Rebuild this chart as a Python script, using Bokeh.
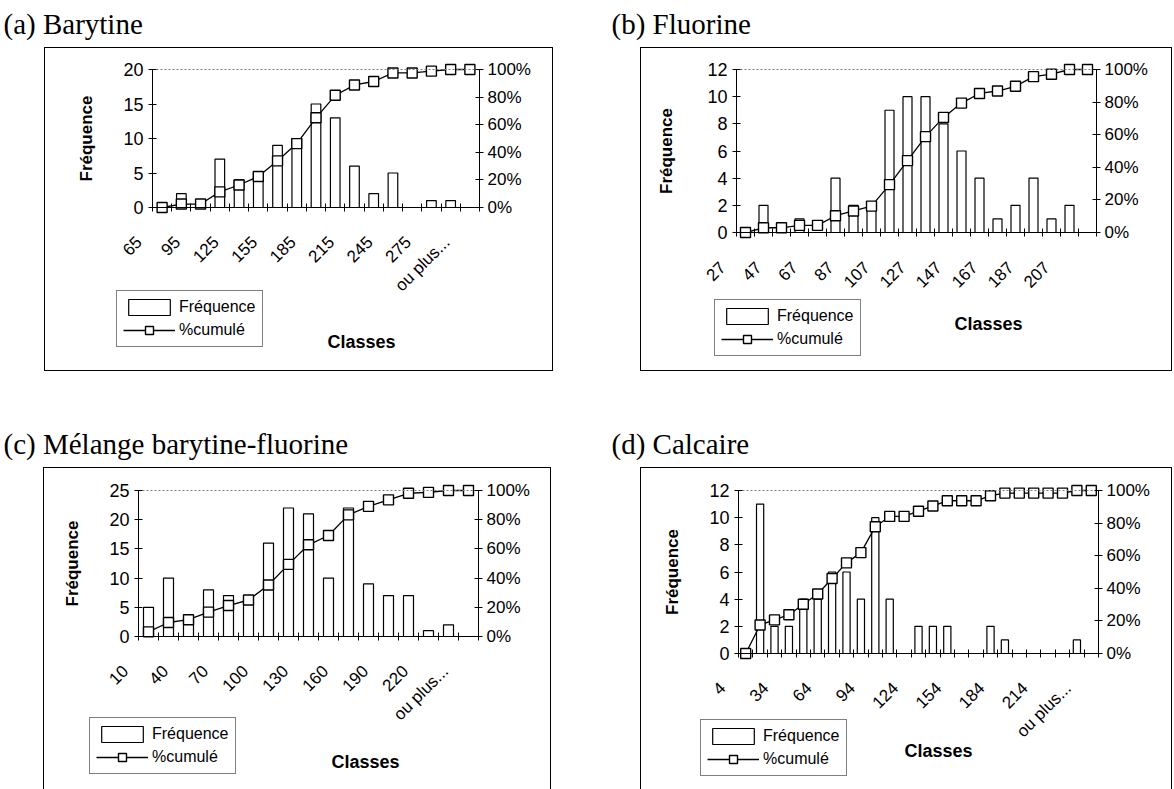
import math
from bokeh.plotting import figure
from bokeh.models import (Range1d, LinearAxis, FixedTicker, PrintfTickFormatter,
                          Legend, LegendItem, Label, Spacer)
from bokeh.layouts import column, row
from bokeh.embed import file_html
from bokeh.resources import INLINE

SANS = "Liberation Sans"
SERIF = "Liberation Serif"

# ---------------- data ----------------
# (a) Barytine
a_title = "(a) Barytine"
a_classes = ["65", "80", "95", "110", "125", "140", "155", "170", "185", "200",
             "215", "230", "245", "260", "275", "290", "ou plus..."]
a_freq = [0, 2, 0, 7, 4, 5, 9, 10, 15, 13, 6, 2, 5, 0, 1, 1, 0]
a_cum = [0, 2.5, 2.5, 11.3, 16.3, 22.5, 33.8, 46.3, 65.0, 81.3, 88.8, 91.3,
         97.5, 97.5, 98.8, 100, 100]

# (b) Fluorine
b_title = "(b) Fluorine"
b_classes = ["27", "37", "47", "57", "67", "77", "87", "97", "107", "117", "127",
             "137", "147", "157", "167", "177", "187", "197", "207", "ou plus..."]
b_freq = [0, 2, 0, 1, 0, 4, 2, 2, 9, 10, 10, 8, 6, 4, 1, 2, 4, 1, 2, 0]
b_cum = [0, 2.9, 2.9, 4.4, 4.4, 10.3, 13.2, 16.2, 29.4, 44.1, 58.8, 70.6, 79.4,
         85.3, 86.8, 89.7, 95.6, 97.1, 100, 100]

# (c) Mélange barytine-fluorine
c_title = "(c) Mélange barytine-fluorine"
c_classes = ["10", "25", "40", "55", "70", "85", "100", "115", "130", "145",
             "160", "175", "190", "205", "220", "235", "ou plus..."]
c_freq = [5, 10, 3, 8, 7, 6, 16, 22, 21, 10, 22, 9, 7, 7, 1, 2, 0]
c_cum = [3.2, 9.6, 11.5, 16.7, 21.2, 25.0, 35.3, 49.4, 62.8, 69.2, 83.3, 89.1,
         93.6, 98.1, 98.7, 100, 100]

# (d) Calcaire
d_title = "(d) Calcaire"
d_classes = ["4", "14", "24", "34", "44", "54", "64", "74", "84", "94", "104",
             "114", "124", "134", "144", "154", "164", "174", "184", "194",
             "204", "214", "224", "234", "ou plus..."]
d_freq = [0, 11, 2, 2, 4, 4, 6, 6, 4, 10, 4, 0, 2, 2, 2, 0, 0, 2, 1, 0, 0, 0, 0, 1, 0]
d_cum = [0, 17.5, 20.6, 23.8, 30.2, 36.5, 46.0, 55.6, 61.9, 77.8, 84.1, 84.1,
         87.3, 90.5, 93.7, 93.7, 93.7, 96.8, 98.4, 98.4, 98.4, 98.4, 98.4, 100, 100]

pct_ticks = [0, 20, 40, 60, 80, 100]

TICK_FS = "17px"


def text_axis(ax, size=TICK_FS):
    ax.major_label_text_font = SANS
    ax.major_label_text_font_size = size
    ax.major_label_text_color = "black"


def make_chart(classes, freq, cum, step, ymax, ystep, W, H, yaxis_px, plot_w,
               bt, plot_h, leg_left, leg_top, cls_cx, cls_cy, freq_cx,
               closed=True):
    n = len(classes)
    cat = plot_w / n              # px per category
    ppu = plot_h / ymax           # px per frequency unit
    xs = -0.5 - yaxis_px / cat
    xe = -0.5 + (W - yaxis_px) / cat
    ys = -(H - bt - plot_h) / ppu
    ye = ymax + bt / ppu
    shift = 23 / cat

    p = figure(width=W, height=H, title=None,
               x_range=Range1d(xs, xe), y_range=Range1d(ys, ye),
               output_backend="svg", toolbar_location=None, min_border=0)
    p.extra_x_ranges = {"lab": Range1d(xs + shift, xe + shift)}
    p.extra_y_ranges = {"pct": Range1d(ys * 100 / ymax, ye * 100 / ymax)}
    p.xgrid.visible = False
    p.ygrid.visible = False
    p.outline_line_color = None
    p.background_fill_color = "white"
    p.border_fill_color = "white"
    css = {"border": "1px solid black", "box-sizing": "border-box"}
    if not closed:
        css["border-bottom"] = "none"
    p.styles = css

    # category axis line with boundary ticks, at y = 0
    xa = p.xaxis[0]
    xa.fixed_location = 0
    xa.bounds = (-0.5, n - 0.5)
    xa.ticker = FixedTicker(ticks=[], minor_ticks=[i - 0.5 for i in range(n + 1)])
    xa.major_tick_in = 0
    xa.major_tick_out = 0
    xa.minor_tick_in = 4
    xa.minor_tick_out = 4
    xa.minor_tick_line_color = "black"
    xa.axis_line_color = "black"
    xa.major_label_standoff = 0

    # left frequency axis at the plot area's left edge
    ya = p.yaxis[0]
    ya.fixed_location = -0.5
    ya.bounds = (0, ymax)
    ya.ticker = FixedTicker(ticks=list(range(0, ymax + 1, ystep)))
    ya.major_tick_in = 4
    ya.major_tick_out = 4
    ya.minor_tick_line_color = None
    ya.axis_line_color = "black"
    ya.major_label_standoff = 5
    text_axis(ya, "18px")

    # right percentage axis
    ra = LinearAxis(y_range_name="pct", fixed_location=n - 0.5, bounds=(0, 100),
                    ticker=FixedTicker(ticks=pct_ticks),
                    formatter=PrintfTickFormatter(format="%d%%"))
    ra.major_tick_in = 4
    ra.major_tick_out = 4
    ra.minor_tick_line_color = None
    ra.axis_line_color = "black"
    ra.major_label_standoff = 4
    text_axis(ra)
    p.add_layout(ra, "right")

    # dotted top edge of the plot area
    ta = LinearAxis(fixed_location=ymax, bounds=(-0.5, n - 0.5),
                    ticker=FixedTicker(ticks=[]),
                    axis_line_color="#7a7a7a", axis_line_dash="2 2",
                    major_tick_in=0, major_tick_out=0, minor_tick_line_color=None,
                    major_label_standoff=0)
    p.add_layout(ta, "above")

    # rotated category labels
    lab = LinearAxis(x_range_name="lab", fixed_location=-32.0 / ppu,
                     ticker=FixedTicker(ticks=[i for i in range(n) if i % step == 0]))
    lab.major_label_overrides = {i: classes[i] for i in range(n) if i % step == 0}
    lab.axis_line_color = None
    lab.major_tick_in = 0
    lab.major_tick_out = 0
    lab.minor_tick_line_color = None
    lab.major_label_orientation = math.pi / 4
    lab.major_label_standoff = 0
    text_axis(lab)
    p.add_layout(lab, "below")

    idx = list(range(n))
    bars = p.vbar(x=idx, top=freq, width=0.5, fill_color="white",
                  line_color="black", line_width=1.2)
    ln = p.line(idx, cum, y_range_name="pct", line_color="black", line_width=1.3)
    sc = p.scatter(idx, cum, y_range_name="pct", marker="square", size=10,
                   fill_color="white", line_color="black", line_width=1.4)

    # legend inside the chart box
    leg_h = 55
    leg = Legend(items=[LegendItem(label="Fréquence", renderers=[bars]),
                        LegendItem(label="%cumulé", renderers=[ln, sc])],
                 location=(leg_left, H - (leg_top + leg_h)))
    leg.border_line_color = "black"
    leg.border_line_width = 1
    leg.background_fill_color = "white"
    leg.background_fill_alpha = 1
    leg.label_text_font = SANS
    leg.label_text_font_size = "16px"
    leg.label_text_color = "black"
    leg.glyph_width = 52
    leg.glyph_height = 20
    leg.label_height = 20
    leg.label_standoff = 4
    leg.spacing = 3
    leg.padding = 6
    leg.margin = 0
    p.add_layout(leg)

    p.add_layout(Label(x=cls_cx, y=H - cls_cy, x_units="screen", y_units="screen",
                       text="Classes", text_font=SANS, text_font_style="bold",
                       text_font_size="18px", text_align="center",
                       text_baseline="middle", text_color="black"))
    p.add_layout(Label(x=freq_cx, y=H - (bt + plot_h / 2), x_units="screen",
                       y_units="screen", angle=math.pi / 2,
                       text="Fréquence", text_font=SANS, text_font_style="bold",
                       text_font_size="17px", text_align="center",
                       text_baseline="middle", text_color="black"))
    return p


def make_title(text, W, H):
    t = figure(width=W, height=H, title=text, output_backend="svg",
               toolbar_location=None, min_border=0,
               x_range=Range1d(0, 1), y_range=Range1d(0, 1))
    t.axis.visible = False
    t.grid.visible = False
    t.outline_line_color = None
    t.title.text_font = SERIF
    t.title.text_font_style = "normal"
    t.title.text_font_size = "29px"
    t.title.text_color = "black"
    t.title.align = "left"
    t.title.offset = 3
    return t


# panel geometry (pixels inside each bordered chart box)
pa = make_chart(a_classes, a_freq, a_cum, 2, 20, 5, W=509, H=324, yaxis_px=107,
                plot_w=327, bt=21, plot_h=138, leg_left=71, leg_top=244,
                cls_cx=316, cls_cy=293, freq_cx=41)
pb = make_chart(b_classes, b_freq, b_cum, 2, 12, 2, W=532, H=324, yaxis_px=95,
                plot_w=360, bt=21, plot_h=163, leg_left=73, leg_top=253,
                cls_cx=347, cls_cy=275, freq_cx=25)
pc = make_chart(c_classes, c_freq, c_cum, 2, 25, 5, W=508, H=322, yaxis_px=94,
                plot_w=340, bt=22, plot_h=146, leg_left=45, leg_top=251,
                cls_cx=321, cls_cy=293, freq_cx=28, closed=False)
pd_ = make_chart(d_classes, d_freq, d_cum, 3, 12, 2, W=532, H=322, yaxis_px=97,
                 plot_w=360, bt=22, plot_h=163, leg_left=59, leg_top=253,
                 cls_cx=297, cls_cy=282, freq_cx=31, closed=False)

ta_ = make_title(a_title, 553, 47)
tb_ = make_title(b_title, 564, 47)
tc_ = make_title(c_title, 551, 47)
td_ = make_title(d_title, 564, 47)

colA = column(ta_, row(Spacer(width=44, height=324), pa, spacing=0), spacing=0)
colB = column(tb_, row(Spacer(width=32, height=324), pb, spacing=0), spacing=0)
colC = column(tc_, row(Spacer(width=43, height=322), pc, spacing=0), spacing=0)
colD = column(td_, row(Spacer(width=32, height=322), pd_, spacing=0), spacing=0)

layout = column(row(colA, Spacer(width=55, height=10), colB, spacing=0),
                Spacer(width=10, height=49),
                row(colC, Spacer(width=57, height=10), colD, spacing=0),
                spacing=0)

open("out.html", "w").write(file_html(layout, INLINE))
